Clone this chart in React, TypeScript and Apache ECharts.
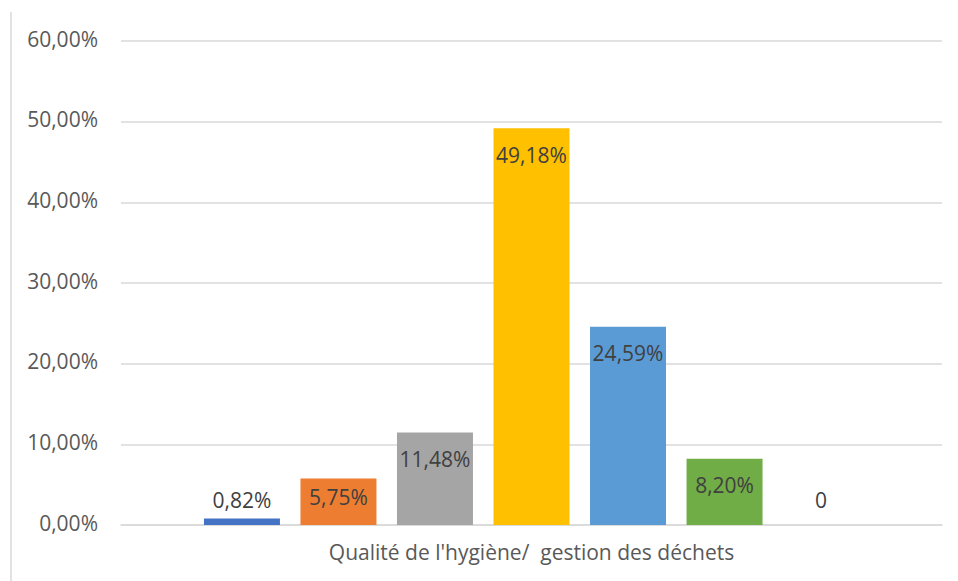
import React, { useEffect, useRef } from "react";
import * as echarts from "echarts";

const categories = ["Qualité de l'hygiène/  gestion des déchets"];
const seriesValues = [0.82, 5.75, 11.48, 49.18, 24.59, 8.2, 0];
const seriesColors = ["#4472C4", "#ED7D31", "#A5A5A5", "#FFC000", "#5B9BD5", "#70AD47", "#264478"];
const labelPositions = ["top", "insideTop", "insideTop", "insideTop", "insideTop", "insideTop", "top"];
const labelDistances = [8, 8, 16, 16, 16, 16, 15];
const yTicks = [0, 10, 20, 30, 40, 50, 60];

const FONT = "'Open Sans', 'Noto Sans', sans-serif";
const FONT_SIZE = 21;

const fmtPct = (v: number) => v.toFixed(2).replace(".", ",") + "%";

export default function App() {
  const ref = useRef<HTMLDivElement>(null);

  useEffect(() => {
    if (!ref.current) return;
    const chart = echarts.init(ref.current, undefined, { renderer: "svg" });
    chart.setOption({
      animation: false,
      backgroundColor: "#ffffff",
      grid: { left: 121, right: 16, top: 41, bottom: 56, containLabel: false },
      graphic: [
        {
          type: "line",
          shape: { x1: 11, y1: 12, x2: 11, y2: 581 },
          style: { stroke: "#d9d9d9", lineWidth: 1.5 },
        },
      ],
      xAxis: {
        type: "category",
        data: categories,
        axisLine: { lineStyle: { color: "#d9d9d9", width: 1.5 } },
        axisTick: { show: false },
        axisLabel: { color: "#595959", fontFamily: FONT, fontSize: FONT_SIZE, margin: 16 },
      },
      yAxis: {
        type: "value",
        min: yTicks[0],
        max: yTicks[yTicks.length - 1],
        interval: 10,
        axisLine: { show: false },
        axisTick: { show: false },
        splitLine: { lineStyle: { color: "#d9d9d9", width: 1.5 } },
        axisLabel: {
          color: "#595959",
          fontFamily: FONT,
          fontSize: FONT_SIZE,
          margin: 23,
          verticalAlign: "bottom",
          padding: [0, 0, -8, 0],
          formatter: (v: number) => fmtPct(v),
        },
      },
      series: seriesValues.map((v, i) => ({
        type: "bar",
        name: "S" + (i + 1),
        data: [v],
        barWidth: 76,
        barGap: "27%",
        itemStyle: { color: seriesColors[i] },
        label: {
          show: true,
          position: labelPositions[i],
          distance: labelDistances[i],
          color: "#404040",
          fontFamily: FONT,
          fontSize: FONT_SIZE,
          formatter: (p: any) => (p.value === 0 ? "0" : fmtPct(p.value)),
        },
      })),
    });
    return () => chart.dispose();
  }, []);

  return (
    <div
      ref={ref}
      style={{ position: "fixed", left: 0, top: 0, width: 958, height: 581 }}
    />
  );
}
